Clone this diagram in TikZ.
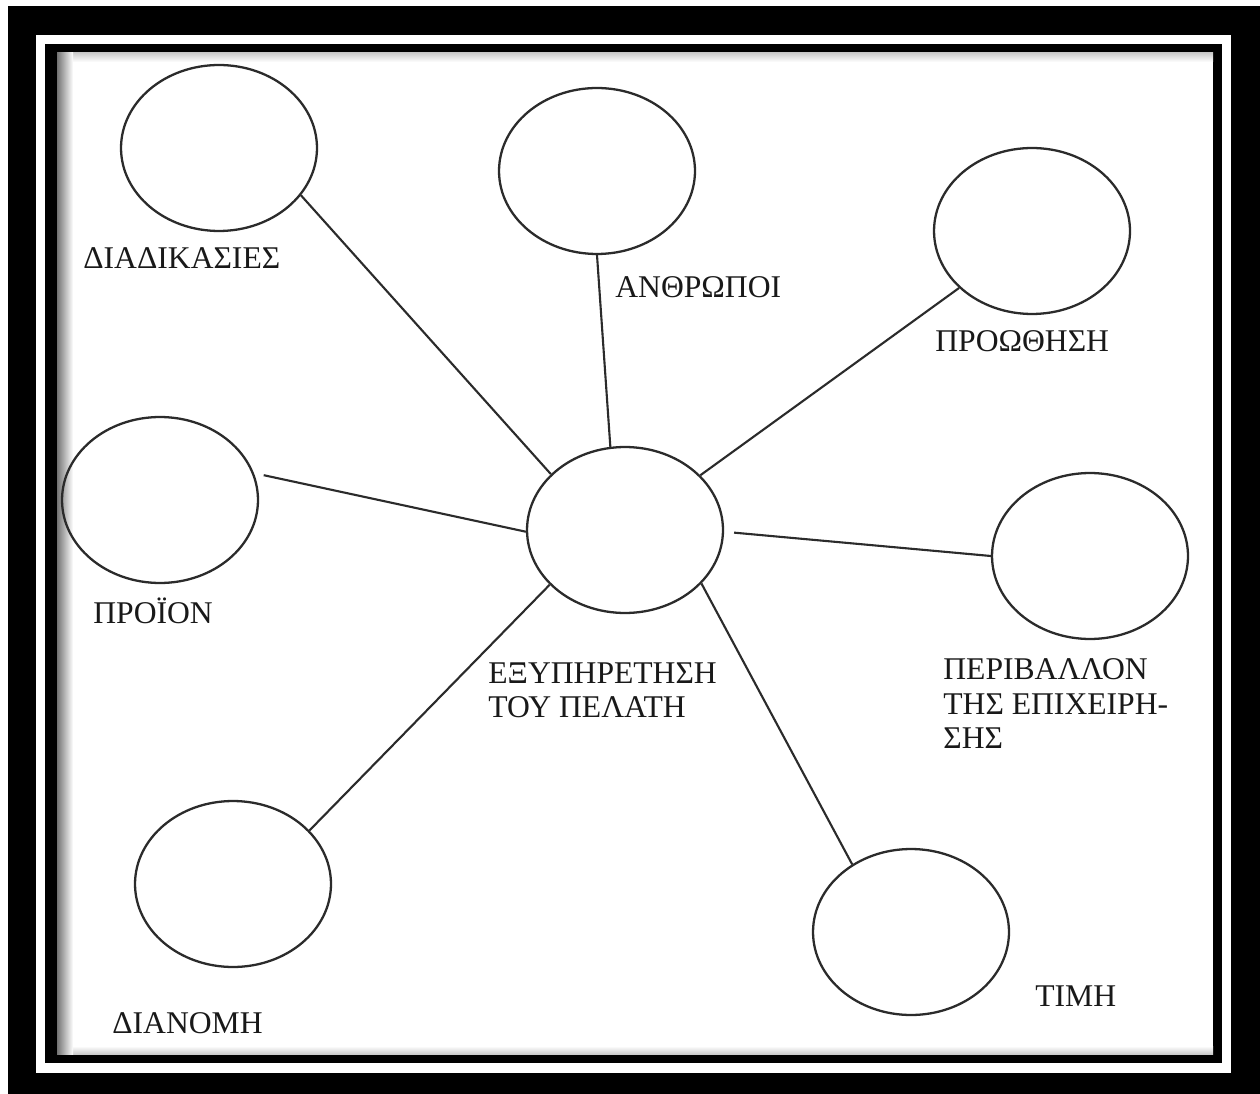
\documentclass[tikz,border=0pt]{standalone}
\usepackage{fontspec}
\setmainfont{Liberation Serif}
\usetikzlibrary{shapes.geometric}
\definecolor{InkGray}{HTML}{2B2B2B}

\begin{document}
\begin{tikzpicture}[x=0.02cm,y=-0.02cm,
    bubble/.style={ellipse,draw=InkGray,line width=1.3pt,
                   minimum width=3.92cm,minimum height=3.32cm,inner sep=0pt},
    spoke/.style={InkGray,line width=1.2pt},
    tag/.style={font=\fontsize{18}{19.8}\selectfont,inner sep=0pt,text=black!90}]
  \useasboundingbox (0,0) rectangle (1260,1094);

  % Frame
  \fill[white] (0,0) rectangle (1260,1094);
  \fill[black] (8,6) rectangle (1260,1094);
  \fill[white] (36,35) rectangle (1231,1073);
  \fill[black] (45,44) rectangle (1222,1063);
  \fill[white] (57,53) rectangle (1213,1054);
  \shade[top color=black!20,bottom color=white] (57,53) rectangle (1213,62);
  \shade[top color=white,bottom color=black!20] (57,1046) rectangle (1213,1054);
  \shade[left color=black!55,right color=white] (57,53) rectangle (73,1054);

  % Bubbles
  \node[bubble] (serv)   at (625,530) {};
  \node[bubble] (proc)   at (219,148) {};
  \node[bubble] (people) at (597,171) {};
  \node[bubble] (promo)  at (1032,231) {};
  \node[bubble] (prod)   at (160,500) {};
  \node[bubble] (env)    at (1090,556) {};
  \node[bubble] (dist)   at (233,884) {};
  \node[bubble] (price)  at (911,932) {};

  % Labels
  \node[tag,anchor=base west] (proc-lbl)   at (83,269)   {ΔΙΑΔΙΚΑΣΙΕΣ};
  \node[tag,anchor=base west] (people-lbl) at (615,298)  {ΑΝΘΡΩΠΟΙ};
  \node[tag,anchor=base west] (promo-lbl)  at (935,352)  {ΠΡΟΩΘΗΣΗ};
  \node[tag,anchor=base west] (prod-lbl)   at (93,623)   {ΠΡΟΪΟΝ};
  \node[tag,anchor=north west,align=left] (serv-lbl) at (488,662)
    {ΕΞΥΠΗΡΕΤΗΣΗ\\ΤΟΥ ΠΕΛΑΤΗ};
  \node[tag,anchor=north west,align=left] (env-lbl) at (943,658)
    {ΠΕΡΙΒΑΛΛΟΝ\\ΤΗΣ ΕΠΙΧΕΙΡΗ-\\ΣΗΣ};
  \node[tag,anchor=base west] (price-lbl)  at (1035,1006) {ΤΙΜΗ};
  \node[tag,anchor=base west] (dist-lbl)   at (112,1033)  {ΔΙΑΝΟΜΗ};

  % Spokes
  \draw[spoke] (serv.143) -- (proc.-30);
  \draw[spoke] (serv.100) -- (people.-90);
  \draw[spoke] (serv.36) -- (promo.218);
  \draw[spoke,shorten >=0.2cm] (serv.181) -- (prod.16);
  \draw[spoke,shorten <=0.2cm] (serv.-1) -- (env.180);
  \draw[spoke] (serv.216) -- (dist.35);
  \draw[spoke] (serv.-35) -- (price.131);
\end{tikzpicture}
\end{document}
